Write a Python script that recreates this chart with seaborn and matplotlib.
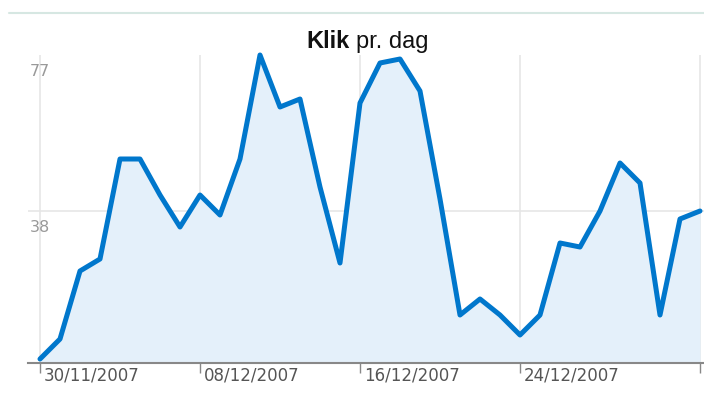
import matplotlib
matplotlib.use("Agg")
import matplotlib.pyplot as plt
from matplotlib.lines import Line2D
from matplotlib.transforms import offset_copy, blended_transform_factory
import seaborn as sns
import pandas as pd

# clicks per day, 30/11/2007 - 02/01/2008
start_day = "2007-11-30"
clicks = [1, 6, 23, 26, 51, 51, 42, 34, 42, 37,
          51, 77, 64, 66, 44, 25, 65, 75, 76, 68,
          41, 12, 16, 12, 7, 12, 30, 29, 38, 50,
          45, 12, 36, 38]
tick_days = ["2007-11-30", "2007-12-08", "2007-12-16", "2007-12-24", "2008-01-02"]
tick_labels = ["30/11/2007", "08/12/2007", "16/12/2007", "24/12/2007", ""]
y_labels = [38, 77]

df = pd.DataFrame({"dag": pd.date_range(start_day, periods=len(clicks)),
                   "klik": clicks})
ticks = pd.to_datetime(tick_days)

sns.set_style("white")
plt.rcParams["font.family"] = ["DejaVu Sans"]

fig = plt.figure(figsize=(7.04, 4.0), dpi=100)
ax = fig.add_axes([28 / 704, 37 / 400, 676 / 704, 308 / 400])

ax.fill_between(df["dag"], df["klik"], 0, color="#e4f0fa", lw=0, zorder=1)
sns.lineplot(data=df, x="dag", y="klik", ax=ax, color="#0077cc", lw=3.6,
             zorder=3, clip_on=False)

ax.set_xlim(df["dag"].iloc[0] - pd.Timedelta(days=0.6),
            df["dag"].iloc[-1] + pd.Timedelta(days=0.2))
ax.set_ylim(0, 77)

ax.set_xticks(ticks)
ax.set_xticklabels([])
ax.set_yticks([38])
ax.set_yticklabels([])
ax.grid(True, color="#e6e6e6", lw=1.2, zorder=0)
ax.tick_params(axis="x", direction="out", length=7.5, width=1.0,
               color="#888888", bottom=True)
ax.tick_params(axis="y", length=0)
for s in ["top", "left", "right"]:
    ax.spines[s].set_visible(False)
ax.spines["bottom"].set_color("#888888")
ax.spines["bottom"].set_linewidth(1.5)
ax.set_xlabel("")
ax.set_ylabel("")

# x labels to the right of the ticks
xtr = blended_transform_factory(ax.transData, ax.transAxes)
xtr = offset_copy(xtr, fig=fig, x=4, y=-13, units="dots")
for d, lab in zip(ticks, tick_labels):
    ax.text(d, 0, lab, transform=xtr, ha="left", va="center",
            fontsize=12, color="#555555", clip_on=False)

# y labels below their gridlines
ytr = blended_transform_factory(ax.transAxes, ax.transData)
ytr = offset_copy(ytr, fig=fig, x=2, y=-9, units="dots")
for v in y_labels:
    ax.text(0, v, str(v), transform=ytr, ha="left", va="top",
            fontsize=11.5, color="#999999")

# title: bold "Klik" + normal "pr. dag"
fig.text(350 / 704, 1 - 48 / 400, "Klik", ha="right", va="baseline",
         fontsize=17, fontweight="bold", color="#111111",
         family=["Liberation Sans", "DejaVu Sans"])
fig.text(356 / 704, 1 - 48 / 400, "pr. dag", ha="left", va="baseline",
         fontsize=17, color="#111111",
         family=["Liberation Sans", "DejaVu Sans"])

# thin line at the very top
fig.add_artist(Line2D([9 / 704, 1], [1 - 13 / 400, 1 - 13 / 400],
                      color="#d6e7e2", lw=1.5, transform=fig.transFigure))

plt.savefig("out.png", dpi=100)
